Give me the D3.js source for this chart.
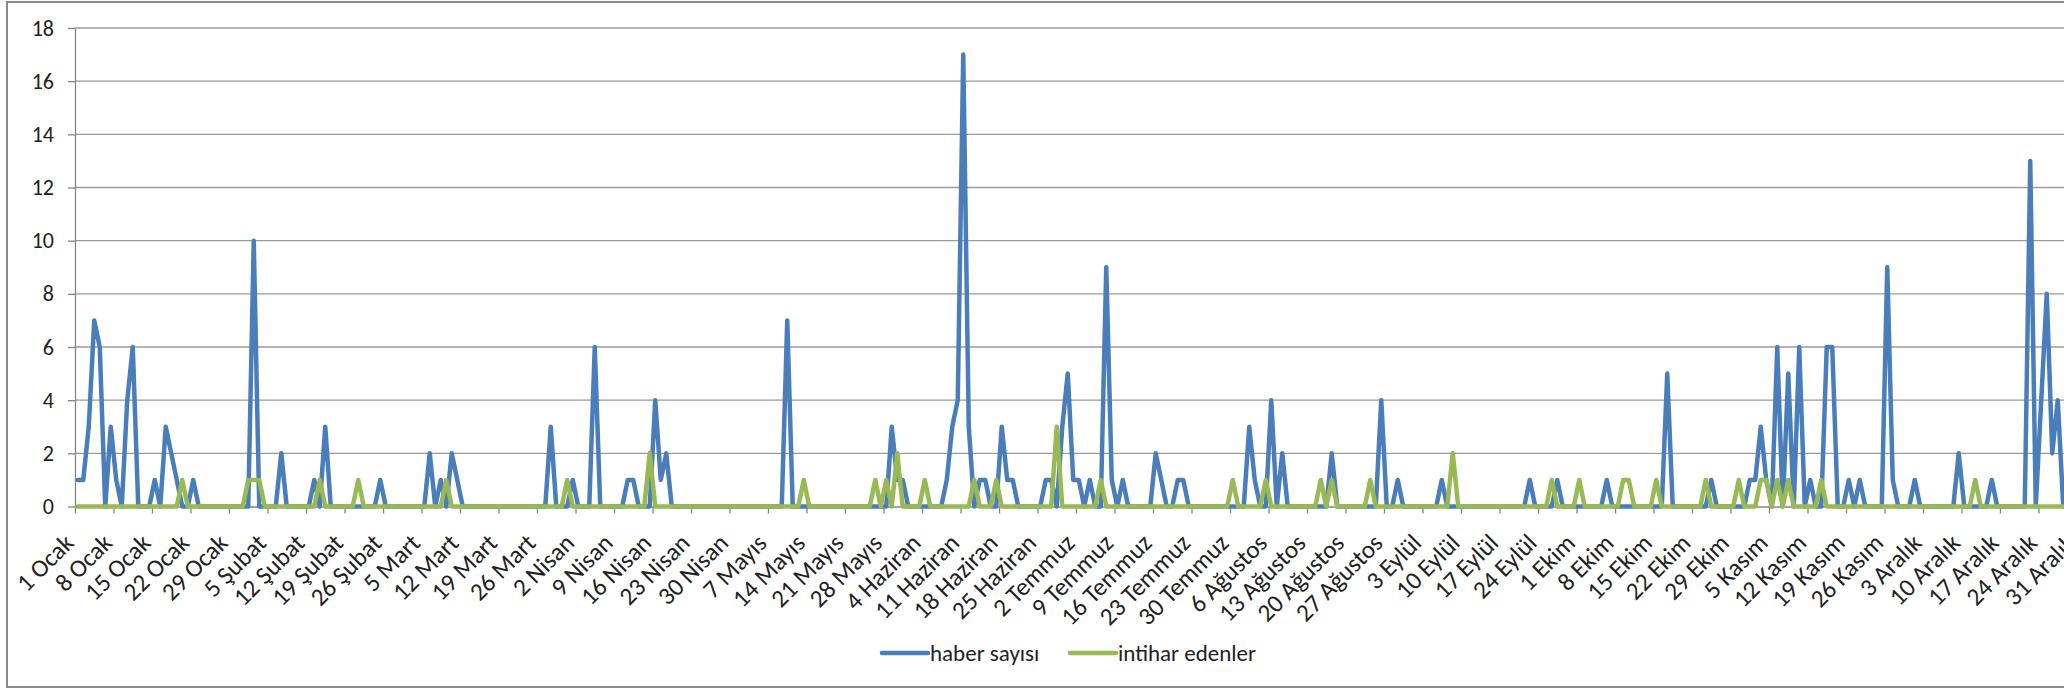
<!DOCTYPE html>
<html><head><meta charset="utf-8">
<script src="https://cdn.jsdelivr.net/npm/d3@7"></script>
<style>html,body{margin:0;padding:0;background:#fff;overflow:hidden}</style>
</head><body><svg id="c" width="2064" height="691"></svg>
<script>
// ---- data ----
const monthNames = ["Ocak","Şubat","Mart","Nisan","Mayıs","Haziran","Temmuz","Ağustos","Eylül","Ekim","Kasım","Aralık"];
const monthDays = [31,28,31,30,31,30,31,31,30,31,30,31];

// haber sayısı, one line per month
const haberSayisi = [
  1,1,3,7,6,0,3,1,0,4,6,0,0,0,1,0,3,2,1,0,0,1,0,0,0,0,0,0,0,0,0,          // Ocak
  0,10,0,0,0,0,2,0,0,0,0,0,1,0,3,0,0,0,0,0,0,0,0,0,1,0,0,0,               // Şubat
  0,0,0,0,0,2,0,1,0,2,1,0,0,0,0,0,0,0,0,0,0,0,0,0,0,0,0,3,0,0,0,          // Mart
  1,0,0,0,6,0,0,0,0,0,1,1,0,0,0,4,1,2,0,0,0,0,0,0,0,0,0,0,0,0,            // Nisan
  0,0,0,0,0,0,0,0,0,7,0,0,0,0,0,0,0,0,0,0,0,0,0,0,0,0,0,0,3,1,1,          // Mayıs
  0,0,0,0,0,0,0,1,3,4,17,3,0,1,1,0,0,3,1,1,0,0,0,0,0,1,1,0,3,5,           // Haziran
  1,1,0,1,0,0,9,1,0,1,0,0,0,0,0,2,1,0,0,1,1,0,0,0,0,0,0,0,0,0,0,          // Temmuz
  0,3,1,0,0,4,0,2,0,0,0,0,0,0,0,0,2,0,0,0,0,0,0,0,0,4,0,0,1,0,0,          // Ağustos
  0,0,0,0,0,1,0,0,0,0,0,0,0,0,0,0,0,0,0,0,0,1,0,0,0,0,1,0,0,0,            // Eylül
  0,0,0,0,0,1,0,0,0,0,0,0,0,0,0,0,5,0,0,0,0,0,0,0,1,0,0,0,0,0,0,          // Ekim
  1,1,3,1,0,6,0,5,0,6,0,1,0,0,6,6,0,0,1,0,1,0,0,0,0,9,1,0,0,0,            // Kasım
  1,0,0,0,0,0,0,0,2,0,0,0,0,0,1,0,0,0,0,0,0,13,0,4,8,2,4,0,0,0,0          // Aralık
];

// intihar edenler, one line per month
const intiharEdenler = [
  0,0,0,0,0,0,0,0,0,0,0,0,0,0,0,0,0,0,0,1,0,0,0,0,0,0,0,0,0,0,0,          // Ocak
  1,1,1,0,0,0,0,0,0,0,0,0,0,1,0,0,0,0,0,0,1,0,0,0,0,0,0,0,                // Şubat
  0,0,0,0,0,0,0,0,1,0,0,0,0,0,0,0,0,0,0,0,0,0,0,0,0,0,0,0,0,0,1,          // Mart
  0,0,0,0,0,0,0,0,0,0,0,0,0,0,2,0,0,0,0,0,0,0,0,0,0,0,0,0,0,0,            // Nisan
  0,0,0,0,0,0,0,0,0,0,0,0,1,0,0,0,0,0,0,0,0,0,0,0,0,1,0,1,0,2,0,          // Mayıs
  0,0,0,1,0,0,0,0,0,0,0,0,1,0,0,0,1,0,0,0,0,0,0,0,0,0,0,3,0,0,            // Haziran
  0,0,0,0,0,1,0,0,0,0,0,0,0,0,0,0,0,0,0,0,0,0,0,0,0,0,0,0,0,1,0,          // Temmuz
  0,0,0,0,1,0,0,0,0,0,0,0,0,0,1,0,1,0,0,0,0,0,0,1,0,0,0,0,0,0,0,          // Ağustos
  0,0,0,0,0,0,0,2,0,0,0,0,0,0,0,0,0,0,0,0,0,0,0,0,0,1,0,0,0,0,            // Eylül
  1,0,0,0,0,0,0,0,1,1,0,0,0,0,1,0,0,0,0,0,0,0,0,1,0,0,0,0,0,1,0,          // Ekim
  0,0,1,1,0,1,0,1,0,0,0,0,0,1,0,0,0,0,0,0,0,0,0,0,0,0,0,0,0,0,            // Kasım
  0,0,0,0,0,0,0,0,0,0,0,1,0,0,0,0,0,0,0,0,0,0,0,0,0,0,0,0,0,0,0           // Aralık
];

const yTicks = [0,2,4,6,8,10,12,14,16,18];
const tickLabels = ["1 Ocak","8 Ocak","15 Ocak","22 Ocak","29 Ocak","5 Şubat","12 Şubat","19 Şubat","26 Şubat",
  "5 Mart","12 Mart","19 Mart","26 Mart","2 Nisan","9 Nisan","16 Nisan","23 Nisan","30 Nisan",
  "7 Mayıs","14 Mayıs","21 Mayıs","28 Mayıs","4 Haziran","11 Haziran","18 Haziran","25 Haziran",
  "2 Temmuz","9 Temmuz","16 Temmuz","23 Temmuz","30 Temmuz","6 Ağustos","13 Ağustos","20 Ağustos","27 Ağustos",
  "3 Eylül","10 Eylül","17 Eylül","24 Eylül","1 Ekim","8 Ekim","15 Ekim","22 Ekim","29 Ekim",
  "5 Kasım","12 Kasım","19 Kasım","26 Kasım","3 Aralık","10 Aralık","17 Aralık","24 Aralık","31 Aralık"];
const seriesNames = ["haber sayısı","intihar edenler"];
const seriesColors = ["#4a7ebb","#98b954"];

// categories: every day of the year
const categories = [];
monthNames.forEach((m,i)=>{ for(let d=1; d<=monthDays[i]; d++) categories.push(d+" "+m); });

// ---- layout ----
const svg = d3.select("#c");
const plotLeft = 75, plotTop = 28, plotBottom = 506.5, step = 5.5;
const plotRight = plotLeft + categories.length*step;
const font = "Carlito, Lato, 'Liberation Sans', sans-serif";

svg.append("rect").attr("x",7).attr("y",2).attr("width",2200).attr("height",685)
  .attr("fill","#fff").attr("stroke","#898989").attr("stroke-width",2);

const x = d3.scalePoint().domain(categories).range([plotLeft,plotRight]).padding(0.5);
const y = d3.scaleLinear().domain([0,18]).range([plotBottom,plotTop]);

// gridlines
svg.append("g").selectAll("line").data(yTicks.filter(v=>v>0)).join("line")
  .attr("x1",plotLeft).attr("x2",plotRight).attr("y1",d=>y(d)).attr("y2",d=>y(d))
  .attr("stroke","#9a9a9a").attr("stroke-width",1.3);

// y axis
const yAxis = svg.append("g").attr("transform",`translate(${plotLeft},0)`)
  .call(d3.axisLeft(y).tickValues(yTicks).tickSizeInner(7).tickSizeOuter(0).tickPadding(14));
yAxis.select(".domain").attr("stroke","#868686").attr("stroke-width",1.3);
yAxis.selectAll(".tick line").attr("stroke","#868686").attr("stroke-width",1.3);
yAxis.selectAll("text").attr("font-family",font).attr("font-size",22).attr("fill","#222");

// x axis
const labelSet = new Set(tickLabels);
const xAxis = svg.append("g").attr("transform",`translate(0,${plotBottom})`)
  .call(d3.axisBottom(x).tickValues(categories.filter(c=>labelSet.has(c))).tickSizeInner(7).tickSizeOuter(0));
xAxis.select(".domain").attr("stroke","#868686").attr("stroke-width",1.3);
xAxis.selectAll(".tick line").attr("stroke","#868686").attr("stroke-width",1.3)
  .attr("transform",`translate(${-step/2},0)`);
xAxis.selectAll(".tick text")
  .attr("font-family",font).attr("font-size",25).attr("fill","#222")
  .attr("text-anchor","end").attr("x",0).attr("y",0).attr("dy",0)
  .attr("transform","translate(-3,38) rotate(-45)");

// lines
const seriesData = [haberSayisi, intiharEdenler];
const line = d3.line().x((d,i)=>x(categories[i])).y(d=>y(d));
seriesData.forEach((s,k)=>{
  svg.append("path").datum(s).attr("d",line).attr("fill","none")
    .attr("stroke",seriesColors[k]).attr("stroke-width",4.5)
    .attr("stroke-linejoin","round").attr("stroke-linecap","round");
});

// legend
const legendX = [882, 1070], legendY = 653;
seriesNames.forEach((n,k)=>{
  const g = svg.append("g").attr("transform",`translate(${legendX[k]},${legendY})`);
  g.append("line").attr("x1",0).attr("x2",46).attr("y1",0).attr("y2",0)
    .attr("stroke",seriesColors[k]).attr("stroke-width",4.5).attr("stroke-linecap","round");
  g.append("text").attr("x",48).attr("y",0).attr("dy","0.35em")
    .attr("font-family",font).attr("font-size",23).attr("fill","#222").text(n);
});
</script></body></html>
